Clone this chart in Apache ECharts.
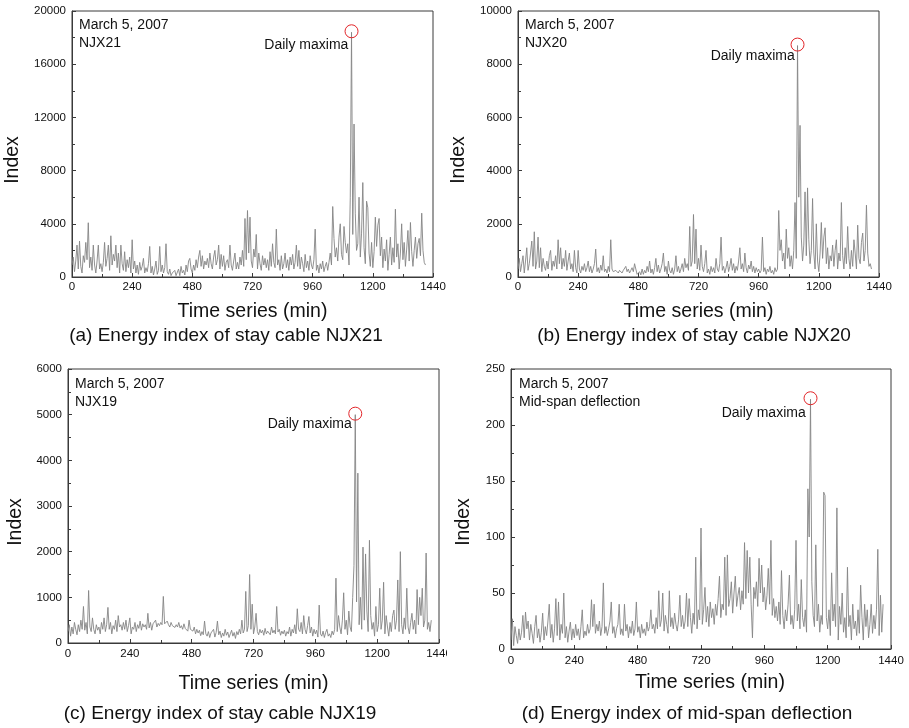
<!DOCTYPE html>
<html>
<head>
<meta charset="utf-8">
<script src="https://cdn.jsdelivr.net/npm/echarts@6/dist/echarts.min.js"></script>
<style>
  html, body { margin: 0; padding: 0; background: #fff; }
  #figure { position: relative; width: 909px; height: 728px; overflow: hidden; background: #fff; }
  .panel { position: absolute; }
</style>
</head>
<body>
<div id="figure">
  <div id="panelA" class="panel" style="left:0;top:0;width:450px;height:360px"></div>
  <div id="panelB" class="panel" style="left:450px;top:0;width:459px;height:360px"></div>
  <div id="panelC" class="panel" style="left:0;top:360px;width:447px;height:368px"></div>
  <div id="panelD" class="panel" style="left:450px;top:360px;width:459px;height:368px"></div>
</div>
<script>
// Energy index samples, one value every 5 minutes from 00:00 (March 5, 2007)
const STEP_MIN = 5;
const dayTicks = [0, 240, 480, 720, 960, 1200, 1440];

const njx21 = [
  900, 1500, 400, 1200, 2400, 600, 2700, 800, 300, 1600, 1100, 2600,
  1300, 4080, 700, 1500, 500, 2400, 900, 300, 1200, 2400, 600, 1000,
  400, 1100, 2600, 800, 1400, 2400, 500, 3100, 900, 1700, 1200, 2400,
  700, 1800, 300, 2400, 1000, 500, 1900, 400, 1300, 700, 1500, 300,
  2800, 600, 1200, 300, 900, 200, 1100, 500, 800, 1400, 300, 700,
  400, 1000, 2300, 300, 800, 150, 600, 1200, 200, 500, 2300, 400,
  900, 300, 700, 2500, 400, 200, 600, 100, 300, 150, 500, 100,
  200, 600, 100, 800, 300, 500, 150, 900, 400, 1200, 1400, 600,
  300, 900, 500, 1300, 700, 1500, 2000, 800, 1600, 600, 1200, 900,
  1400, 700, 1800, 1000, 600, 1500, 2000, 900, 1300, 2400, 600, 1700,
  800, 1600, 500, 1100, 1300, 700, 2400, 900, 500, 1200, 1800, 600,
  1100, 600, 1500, 900, 2000, 800, 4400, 1300, 5000, 1800, 4500, 1200,
  700, 2100, 1500, 3200, 600, 1800, 1000, 500, 1600, 900, 1400, 700,
  1300, 500, 1900, 800, 2500, 1100, 700, 3600, 900, 1300, 500, 1600,
  600, 1000, 1800, 700, 1300, 500, 1500, 900, 1700, 600, 1100, 2400,
  800, 2000, 600, 1500, 1000, 400, 1700, 700, 1200, 500, 1600, 900,
  600, 1300, 3600, 500, 900, 300, 1000, 600, 1200, 400, 800, 1100,
  500, 1100, 1800, 900, 5300, 2900, 1500, 2200, 1200, 3000, 4000, 1700,
  1300, 3800, 2600, 1800, 2500, 900, 6000, 18400, 3200, 11500, 4800, 2000,
  2500, 6000, 1500, 3300, 7100, 2200, 1000, 5700, 5200, 1800, 800, 2600,
  700, 1900, 4500, 2300, 3900, 4400, 1600, 3000, 700, 2100, 1200, 2800,
  500, 1700, 3000, 900, 2200, 1100, 5100, 1500, 2500, 600, 1800, 4000,
  1300, 2600, 800, 2100, 3500, 1200, 4100, 1900, 800, 2000, 3000, 1400,
  2500, 2900, 1600, 4800, 2000, 1100, 900
];

const njx20 = [
  300, 700, 200, 500, 800, 150, 600, 1100, 250, 500, 900, 1350,
  400, 1700, 300, 600, 1500, 350, 1100, 200, 700, 400, 250, 600,
  300, 800, 1000, 250, 600, 400, 800, 300, 1400, 500, 1100, 300,
  700, 400, 1000, 250, 600, 900, 300, 500, 200, 1000, 350, 150,
  1000, 300, 150, 400, 250, 500, 200, 350, 600, 200, 400, 150,
  300, 500, 1050, 200, 350, 150, 450, 250, 800, 200, 300, 150,
  400, 200, 1400, 300, 200, 150, 250, 200, 150, 250, 200, 150,
  250, 180, 400, 200, 300, 150, 250, 350, 200, 500, 300, 100,
  60, 200, 80, 300, 100, 250, 150, 400, 200, 600, 150, 300,
  100, 350, 700, 200, 450, 150, 300, 500, 900, 200, 400, 100,
  600, 250, 150, 350, 100, 300, 800, 200, 400, 150, 300, 500,
  200, 700, 350, 500, 250, 1900, 400, 600, 2350, 500, 1800, 300,
  700, 250, 1200, 400, 200, 500, 1000, 150, 300, 100, 400, 200,
  350, 150, 700, 300, 200, 500, 1500, 250, 400, 150, 350, 600,
  200, 400, 700, 250, 500, 150, 400, 250, 600, 1100, 300, 500,
  200, 900, 350, 150, 450, 300, 600, 200, 400, 150, 350, 200,
  300, 150, 250, 1500, 200, 350, 100, 300, 200, 400, 150, 250,
  100, 350, 200, 300, 2500, 1000, 1400, 600, 900, 300, 1800, 700,
  1100, 400, 800, 300, 1000, 2800, 700, 8700, 3000, 5700, 1500, 600,
  1200, 3200, 800, 3350, 1400, 500, 1000, 2950, 900, 300, 2000, 600,
  200, 900, 2050, 700, 1500, 1850, 500, 1100, 300, 800, 600, 1200,
  400, 1000, 1400, 300, 900, 600, 2800, 800, 300, 1100, 500, 1900,
  700, 300, 1000, 400, 1400, 900, 300, 1950, 700, 500, 1300, 1650,
  600, 1000, 2700, 900, 400, 500, 300
];

const njx19 = [
  250, 400, 150, 350, 200, 450, 300, 180, 400, 250, 500, 300,
  800, 280, 450, 200, 1150, 350, 250, 550, 300, 200, 400, 280,
  350, 200, 450, 300, 550, 250, 400, 780, 300, 450, 200, 380,
  300, 500, 250, 600, 350, 400, 280, 450, 300, 500, 250, 380,
  550, 200, 350, 300, 450, 250, 400, 320, 480, 280, 420, 350,
  400, 300, 650, 330, 450, 280, 420, 380, 500, 350, 430, 380,
  450, 400, 1020, 420, 380, 480, 400, 350, 450, 380, 420, 340,
  400, 350, 450, 330, 380, 300, 420, 320, 350, 260, 500, 300,
  320, 260, 350, 200, 300, 220, 280, 160, 250, 180, 480, 200,
  150, 250, 120, 220, 180, 300, 130, 230, 480, 180, 260, 120,
  220, 150, 300, 170, 240, 120, 200, 280, 150, 230, 100, 250,
  180, 300, 200, 500, 220, 300, 1130, 250, 380, 1500, 300, 850,
  200, 350, 650, 250, 180, 300, 220, 280, 170, 320, 200, 260,
  300, 180, 350, 220, 280, 200, 800, 240, 300, 170, 260, 200,
  280, 150, 250, 200, 350, 150, 300, 220, 400, 200, 750, 300,
  250, 450, 200, 600, 300, 200, 380, 580, 220, 350, 150, 300,
  200, 280, 130, 830, 200, 150, 260, 120, 230, 300, 150, 200,
  120, 260, 180, 300, 1420, 250, 600, 350, 200, 500, 1100, 300,
  500, 180, 700, 350, 250, 1000, 1700, 5000, 900, 3720, 400, 1000,
  300, 2100, 500, 1950, 700, 250, 2250, 600, 300, 450, 150, 800,
  250, 400, 1200, 300, 500, 1330, 200, 600, 350, 150, 450, 250,
  600, 720, 300, 500, 1380, 250, 2000, 400, 200, 550, 300, 1200,
  350, 200, 450, 650, 300, 500, 200, 1170, 400, 1000, 600, 1200,
  350, 500, 1970, 300, 450, 250, 500
];

const deflection = [
  8, 27, 3, 20, 12, 5, 18, 8, 15, 30, 10, 33,
  18, 25, 8, 22, 14, 5, 20, 30, 10, 18, 6, 15,
  32, 8, 20, 12, 25, 40, 10, 22, 6, 18, 45, 12,
  42, 8, 22, 14, 50, 10, 20, 6, 16, 24, 8, 18,
  10, 22, 12, 18, 8, 20, 35, 10, 16, 12, 22, 14,
  18, 44, 20, 40, 14, 22, 16, 25, 12, 20, 59, 14,
  20, 12, 18, 25, 42, 14, 20, 10, 18, 22, 40, 13,
  18, 12, 40, 16, 22, 10, 20, 14, 25, 12, 18, 42,
  15, 20, 10, 22, 14, 18, 12, 24, 16, 20, 35, 18,
  22, 14, 28, 18, 52, 20, 26, 50, 16, 30, 22, 14,
  52, 20, 28, 18, 32, 22, 16, 26, 48, 20, 30, 18,
  25, 50, 20, 45, 28, 14, 32, 22, 82, 18, 35, 26,
  108, 22, 35, 55, 24, 38, 20, 42, 28, 36, 22, 40,
  30, 45, 65, 28, 40, 35, 82, 30, 84, 38, 45, 60,
  32, 50, 65, 38, 48, 55, 35, 52, 40, 95, 45, 88,
  50, 82, 40, 10, 55, 45, 60, 38, 81, 50, 75, 42,
  55, 35, 48, 72, 40, 97, 30, 45, 28, 38, 25, 42,
  22, 70, 30, 18, 35, 25, 40, 66, 22, 30, 18, 35,
  97, 25, 40, 18, 62, 28, 20, 35, 15, 143, 100, 223,
  60, 30, 20, 93, 25, 40, 15, 30, 22, 140, 137, 28,
  18, 35, 12, 68, 25, 40, 20, 126, 8, 38, 22, 50,
  15, 28, 10, 73, 20, 30, 8, 40, 18, 25, 12, 35,
  14, 57, 28, 8, 40, 20, 35, 10, 22, 40, 14, 30,
  18, 35, 89, 12, 48, 15, 40
];

const dateText = 'March 5, 2007';
const sensorNames = ['NJX21', 'NJX20', 'NJX19', 'Mid-span deflection'];
const captions = [
  '(a) Energy index of stay cable NJX21',
  '(b) Energy index of stay cable NJX20',
  '(c) Energy index of stay cable NJX19',
  '(d) Energy index of mid-span deflection'
];
const yMaxes = [20000, 10000, 6000, 250];
const ySteps = [4000, 2000, 1000, 50];
const xTitle = 'Time series (min)';
const yTitle = 'Index';
const peakText = 'Daily maxima';

const FONT = 'Arial, "Liberation Sans", Helvetica, sans-serif';
const INK = '#111';
const FRAME = '#3a3a3a';

// per-panel layout (pixels inside each panel's own canvas)
const layouts = [
  { el: 'panelA', grid: { left: 72, top: 11, width: 361, height: 266 }, notes: [79, 25], cap: [226, 336], xGap: 25, yGap: 44, xShift: 0, yShift: 16, peakLabel: [3.8, 20.8], xLabelMargin: 4 },
  { el: 'panelB', grid: { left: 68, top: 11, width: 361, height: 266 }, notes: [75, 25], cap: [244, 336], xGap: 25, yGap: 46, xShift: 0, yShift: 16, peakLabel: [4.2, 18.8], xLabelMargin: 4 },
  { el: 'panelC', grid: { left: 68, top: 9, width: 371, height: 274 }, notes: [75, 24], cap: [220, 354], xGap: 31, yGap: 41, xShift: 0, yShift: 16, peakLabel: [3.5, 17.2], xLabelMargin: 5 },
  { el: 'panelD', grid: { left: 61, top: 9, width: 380, height: 280 }, notes: [69, 24], cap: [237, 354], xGap: 24, yGap: 37, xShift: 9, yShift: 13, peakLabel: [2.2, 22.2], xLabelMargin: 6 }
];

const seriesList = [njx21, njx20, njx19, deflection];

seriesList.forEach((values, k) => {
  const L = layouts[k];
  const chart = echarts.init(document.getElementById(L.el), null, { renderer: 'canvas' });
  const points = values.map((v, i) => [i * STEP_MIN, v]);
  let peakIdx = 0;
  values.forEach((v, i) => { if (v > values[peakIdx]) peakIdx = i; });
  const peak = points[peakIdx];

  chart.setOption({
    animation: false,
    backgroundColor: '#fff',
    grid: Object.assign({
      show: true, borderColor: FRAME, borderWidth: 1, backgroundColor: 'transparent',
      containLabel: false, outerBoundsMode: 'none'
    }, L.grid),
    xAxis: {
      type: 'value', min: dayTicks[0], max: dayTicks[dayTicks.length - 1], interval: dayTicks[1] - dayTicks[0],
      axisLine: { show: true, lineStyle: { color: FRAME, width: 1 } },
      axisTick: { show: true, inside: true, length: 4, lineStyle: { color: FRAME } },
      minorTick: { show: true, splitNumber: 2, length: 3, lineStyle: { color: FRAME } },
      axisLabel: { margin: L.xLabelMargin, color: INK, fontSize: 11.5, fontFamily: FONT, formatter: v => String(v), hideOverlap: false },
      splitLine: { show: false },
      name: xTitle, nameLocation: 'middle', nameGap: L.xGap,
      nameTextStyle: { fontSize: 19.5, color: INK, fontFamily: FONT, padding: [0, 0, 0, L.xShift * 2] }
    },
    yAxis: {
      type: 'value', min: 0, max: yMaxes[k], interval: ySteps[k],
      axisLine: { show: true, lineStyle: { color: FRAME, width: 1 } },
      axisTick: { show: true, inside: true, length: 4, lineStyle: { color: FRAME } },
      minorTick: { show: true, splitNumber: 2, length: 3, lineStyle: { color: FRAME } },
      axisLabel: { margin: 6, color: INK, fontSize: 11.5, fontFamily: FONT, formatter: v => String(v) },
      splitLine: { show: false },
      name: yTitle, nameLocation: 'middle', nameGap: L.yGap, nameRotate: 90,
      nameTextStyle: { fontSize: 19.5, color: INK, fontFamily: FONT, padding: [0, L.yShift * 2, 0, 0] }
    },
    series: [{
      type: 'line',
      data: points,
      showSymbol: false,
      symbol: 'none',
      silent: true,
      lineStyle: { color: '#858585', width: 0.9 },
      emphasis: { disabled: true },
      markPoint: {
        silent: true,
        symbol: 'circle',
        symbolSize: 13,
        symbolOffset: [0, -1],
        itemStyle: { color: 'rgba(0,0,0,0)', borderColor: '#e3262a', borderWidth: 1 },
        label: {
          show: true, formatter: peakText, position: L.peakLabel,
          align: 'right', verticalAlign: 'middle',
          color: INK, fontSize: 14, fontFamily: FONT
        },
        data: [{ coord: peak }]
      }
    }],
    graphic: [
      { type: 'text', x: L.notes[0], y: L.notes[1], style: { text: dateText, fill: INK, font: '14px ' + FONT, textAlign: 'left', textVerticalAlign: 'middle' } },
      { type: 'text', x: L.notes[0], y: L.notes[1] + 18, style: { text: sensorNames[k], fill: INK, font: '14px ' + FONT, textAlign: 'left', textVerticalAlign: 'middle' } },
      { type: 'text', x: L.cap[0], y: L.cap[1], style: { text: captions[k], fill: INK, font: '19px ' + FONT, textAlign: 'center', textVerticalAlign: 'middle' } }
    ]
  });
});
</script>
</body>
</html>
